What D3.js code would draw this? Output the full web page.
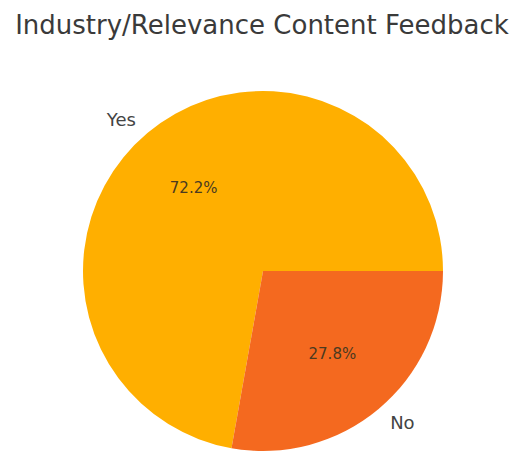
<!DOCTYPE html>
<html>
<head>
<meta charset="utf-8">
<script src="https://cdn.jsdelivr.net/npm/d3@7"></script>
<style>
  html, body { margin: 0; padding: 0; background: #ffffff; }
  svg { display: block; }
</style>
</head>
<body>
<svg id="chart" width="520" height="466"></svg>
<script>
const title = "Industry/Relevance Content Feedback";
const categories = ["Yes", "No"];
const values = [72.2, 27.8];
const colors = ["#FFAF00", "#F4691F"];

const svg = d3.select("#chart");
const cx = 263, cy = 271, R = 180;

svg.append("text")
  .attr("x", 262).attr("y", 34)
  .attr("text-anchor", "middle")
  .attr("font-family", "DejaVu Sans")
  .attr("font-size", 26)
  .attr("fill", "#3a3a3a")
  .text(title);

const data = categories.map((c, i) => ({ label: c, value: values[i], color: colors[i] }));

// matplotlib-style: start at 3 o'clock, counterclockwise
const pie = d3.pie().value(d => d.value).sort(null)
  .startAngle(Math.PI / 2).endAngle(Math.PI / 2 - 2 * Math.PI);
const arcs = pie(data);
const arc = d3.arc().innerRadius(0).outerRadius(R);

const g = svg.append("g").attr("transform", `translate(${cx},${cy})`);

g.selectAll("path.slice").data(arcs).enter().append("path")
  .attr("class", "slice")
  .attr("d", arc)
  .attr("fill", d => d.data.color);

function pos(d, f) {
  const a = (d.startAngle + d.endAngle) / 2;
  return [Math.sin(a) * R * f, -Math.cos(a) * R * f];
}

g.selectAll("text.lab").data(arcs).enter().append("text")
  .attr("class", "lab")
  .attr("x", d => pos(d, 1.1)[0])
  .attr("y", d => pos(d, 1.1)[1])
  .attr("text-anchor", d => pos(d, 1.1)[0] < 0 ? "end" : "start")
  .attr("dominant-baseline", "central")
  .attr("font-family", "DejaVu Sans")
  .attr("font-size", 18)
  .attr("fill", "#444444")
  .text(d => d.data.label);

g.selectAll("text.pct").data(arcs).enter().append("text")
  .attr("class", "pct")
  .attr("x", d => pos(d, 0.6)[0])
  .attr("y", d => pos(d, 0.6)[1])
  .attr("text-anchor", "middle")
  .attr("dominant-baseline", "central")
  .attr("font-family", "DejaVu Sans")
  .attr("font-size", 15)
  .attr("fill", "#4a3a20")
  .text(d => d.data.value.toFixed(1) + "%");
</script>
</body>
</html>
